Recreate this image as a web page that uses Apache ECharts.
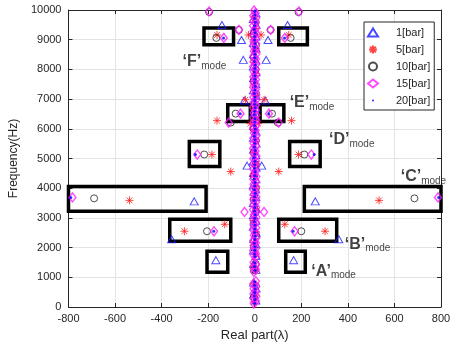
<!DOCTYPE html>
<html>
<head>
<meta charset="utf-8">
<script src="https://cdn.jsdelivr.net/npm/echarts@6/dist/echarts.min.js"></script>
<style>
  html, body { margin: 0; padding: 0; background: #fff; }
  #chart { width: 454px; height: 347px; }
</style>
</head>
<body>
<div id="chart"></div>
<script>
// [real part, frequency]
// central strip (lightly damped modes), per pressure
const strip1 = [[5,9890],[-6,9700],[6,9500],[-5,9300],[5,9110],[-6,8900],[6,8700],[-5,8510],[5,8300],[-6,8100],[6,7900],[-5,7710],[5,7500],[-6,7300],[6,7110],[-5,6900],[5,6700],[-6,6510],[6,6300],[-5,6100],[5,5910],[-6,5700],[6,5500],[-5,5300],[5,5110],[-6,4900],[6,4700],[-5,4510],[5,4300],[-6,4100],[4,3960],[-3,3880],[5,3700],[-6,3500],[6,3310],[-5,3100],[5,2900],[-6,2710],[6,2500],[-5,2300],[5,2110],[-6,1900],[5,1720],[-5,1450],[5,1250],[-5,820],[6,620],[-5,420],[5,220]];
const strip5 = [[-4,9760],[5,9380],[-5,9000],[4,8620],[-4,8240],[5,7860],[-5,7480],[4,7100],[-4,6720],[5,6340],[-5,5960],[4,5580],[-4,5200],[5,4820],[-5,4440],[4,4060],[-4,3680],[5,3300],[-5,2920],[4,2540],[-4,2160],[5,1780],[-4,1380],[4,1210],[-5,780],[4,400],[-4,170]];
const strip10 = [[4,9600],[-5,9200],[5,8800],[-4,8400],[4,8000],[-5,7600],[5,7200],[-4,6800],[4,6400],[-5,6000],[5,5600],[-4,5200],[4,4800],[-5,4400],[5,4000],[-4,3600],[4,3200],[-5,2800],[5,2400],[-4,2000],[4,1450],[-4,1260],[5,700],[-4,330]];
const strip15 = [[-3,9985],[4,9900],[-6,9815],[6,9730],[-5,9640],[4,9560],[-7,9470],[6,9385],[-4,9300],[7,9210],[-6,9125],[5,9040],[-5,8950],[6,8870],[-7,8780],[4,8695],[-4,8610],[7,8520],[-6,8440],[5,8350],[-5,8260],[6,8180],[-7,8090],[4,8005],[-4,7920],[7,7830],[-6,7750],[5,7660],[-5,7575],[6,7490],[-7,7400],[4,7320],[-4,7230],[7,7145],[-6,7060],[5,6970],[-5,6890],[6,6800],[-7,6715],[4,6630],[-4,6540],[7,6460],[-6,6370],[5,6285],[-5,6200],[6,6110],[-7,6030],[4,5940],[-4,5855],[7,5770],[-6,5680],[5,5600],[-5,5510],[6,5425],[-7,5340],[4,5250],[-4,5170],[7,5080],[-6,4995],[5,4910],[-5,4820],[6,4740],[-7,4650],[4,4565],[-4,4480],[7,4390],[-6,4310],[5,4220],[-5,4135],[6,4050],[-7,3960],[4,3880],[-4,3790],[7,3705],[-6,3620],[5,3530],[-5,3450],[6,3360],[-7,3275],[4,3190],[-4,3100],[7,3020],[-6,2930],[5,2845],[-5,2760],[6,2670],[-7,2590],[4,2500],[-4,2415],[7,2330],[-6,2240],[5,2160],[-5,2070],[6,1985],[-7,1900],[4,1810],[-4,1730],[6,1690],[-5,1500],[6,1420],[-6,1340],[5,1260],[-4,1185],[5,865],[-6,780],[6,700],[-5,615],[4,530],[-6,450],[7,365],[-5,280],[5,200],[-4,115]];
const strip20 = [[0,9950],[1,9830],[-1,9710],[2,9590],[0,9470],[-2,9350],[1,9230],[0,9110],[-1,8990],[2,8870],[0,8750],[-2,8630],[1,8510],[0,8390],[-1,8270],[2,8150],[0,8030],[-2,7910],[1,7790],[0,7670],[-1,7550],[2,7430],[0,7310],[-2,7190],[1,7070],[0,6950],[-1,6830],[2,6710],[0,6590],[-2,6470],[1,6350],[0,6230],[-1,6110],[2,5990],[0,5870],[-2,5750],[1,5630],[0,5510],[-1,5390],[2,5270],[0,5150],[-2,5030],[1,4910],[0,4790],[-1,4670],[2,4550],[0,4430],[-2,4310],[1,4190],[0,4070],[-1,3950],[2,3830],[0,3710],[-2,3590],[1,3470],[0,3350],[-1,3230],[2,3110],[0,2990],[-2,2870],[1,2750],[0,2630],[-1,2510],[2,2390],[0,2270],[-2,2150],[1,2030],[0,1910],[-1,1790],[1,1700],[0,1480],[-1,1360],[1,1240],[0,850],[-1,730],[2,610],[0,490],[-2,370],[1,250],[0,130]];

// points away from the strip
const modes1 = [[-141,9497],[141,9497],[-57,8990],[57,8990],[-49,8320],[49,8320],[-45,6950],[45,6950],[-33,4760],[30,4760],[-260,3557],[260,3557],[-357,2282],[361,2282],[-167,1577],[167,1577]];
const modes5 = [[-162,9160],[146,9160],[-27,9160],[27,9160],[-40,6980],[40,6980],[-162,6275],[158,6275],[-19,6174],[15,6174],[-184,5134],[188,5134],[-103,4560],[103,4560],[-538,3590],[534,3590],[-302,2550],[302,2550],[-129,2785],[129,2785]];
const modes10 = [[-196,9930],[188,9930],[-165,9060],[154,9060],[-68,9330],[68,9330],[-82,6510],[74,6510],[-103,6208],[99,6208],[-217,5134],[213,5134],[-690,3658],[686,3658],[-205,2550],[200,2550]];
const modes15 = [[-196,9950],[190,9950],[-133,9060],[129,9060],[-68,9330],[68,9330],[-61,6510],[61,6510],[-112,6208],[103,6208],[-247,5134],[243,5134],[-783,3690],[787,3690],[-175,2550],[171,2550],[-44,3200],[40,3200]];
const modes20 = [[-790,3690],[790,3690],[-255,5134],[255,5134],[-176,2550],[165,2550],[-134,9060],[128,9060],[-62,6510],[60,6510]];

const seriesNames = ['1[bar]', '5[bar]', '10[bar]', '15[bar]', '20[bar]'];

// mode annotations: box corners [x1, y1, x2, y2] and label anchor
const modeBoxes = [
  [-218, 9396, -91, 8826], [103, 9396, 226, 8826],
  [-116, 6812, -19, 6242], [23, 6812, 125, 6242],
  [-281, 5570, -150, 4732], [150, 5570, 281, 4732],
  [-800, 4060, -209, 3221], [213, 4060, 800, 3221],
  [-365, 2953, -103, 2215], [103, 2953, 352, 2215],
  [-205, 1879, -116, 1174], [133, 1879, 217, 1174]
];
const modeLabels = [['F', -310, 8255], ['E', 150, 6880], ['D', 319, 5640], ['C', 627, 4400], ['B', 387, 2114], ['A', 243, 1208]];

const asterisk = 'path://M0,-5V5M-5,0H5M-3.6,-3.6L3.6,3.6M-3.6,3.6L3.6,-3.6';
const smallDot = 'path://M-5,-5L-5,-5M5,5L5,5M-1.3,0A1.3,1.3,0,1,0,1.3,0A1.3,1.3,0,1,0,-1.3,0Z';
const fontFam = '"Liberation Sans", Arial, sans-serif';
const axisColor = '#262626';

var myChart = echarts.init(document.getElementById('chart'));

const baseX = {
  type: 'value', min: -800, max: 800, interval: 200,
  axisLine: { show: true, onZero: false, lineStyle: { color: axisColor, width: 1 } },
  axisTick: { show: true, inside: true, length: 4, lineStyle: { color: axisColor } },
  splitLine: { show: false }
};
const baseY = {
  type: 'value', min: 0, max: 10000, interval: 1000,
  axisLine: { show: true, onZero: false, lineStyle: { color: axisColor, width: 1 } },
  axisTick: { show: true, inside: true, length: 4, lineStyle: { color: axisColor } },
  splitLine: { show: false }
};

myChart.setOption({
  animation: false,
  textStyle: { fontFamily: fontFam },
  grid: { left: 62, right: 13, top: 10, bottom: 39 },
  legend: {
    orient: 'vertical', left: 364, top: 22,
    padding: [5, 4, 4, 3], itemGap: 6, itemWidth: 10, itemHeight: 8,
    backgroundColor: '#fff', borderColor: axisColor, borderWidth: 1,
    textStyle: { fontSize: 11, color: axisColor, padding: [0, 0, 0, 13] },
    data: [
      { name: '1[bar]' }, { name: '5[bar]' }, { name: '10[bar]' }, { name: '15[bar]' },
      { name: '20[bar]', icon: smallDot, itemStyle: { color: '#0000ff', borderWidth: 0 } }
    ]
  },
  xAxis: [
    Object.assign({}, baseX, {
      position: 'bottom',
      name: 'Real part(λ)', nameLocation: 'middle', nameGap: 22,
      nameTextStyle: { fontSize: 13, color: axisColor },
      axisLabel: { fontSize: 11, color: axisColor, margin: 6 },
      splitLine: { show: true, lineStyle: { color: '#e3e3e3', width: 1 } }
    }),
    Object.assign({}, baseX, { position: 'top', axisLabel: { show: false } })
  ],
  yAxis: [
    Object.assign({}, baseY, {
      position: 'left',
      name: 'Frequency(Hz)', nameLocation: 'middle', nameGap: 37,
      nameTextStyle: { fontSize: 12, color: axisColor },
      axisLabel: { fontSize: 11, color: axisColor, margin: 7, formatter: v => String(v) },
      splitLine: { show: true, lineStyle: { color: '#e3e3e3', width: 1 } }
    }),
    Object.assign({}, baseY, { position: 'right', axisLabel: { show: false } })
  ],
  series: [
    {
      name: 'modes', type: 'scatter', symbolSize: 0, silent: true, z: 1,
      data: modeLabels.map(m => ({ value: [m[1], m[2]], name: m[0] })),
      label: {
        show: true, position: [0, 0], align: 'left', verticalAlign: 'middle',
        formatter: p => '{q|‘' + p.name + '’}{m|mode}',
        rich: {
          q: { fontSize: 16, fontWeight: 'bold', color: '#111', fontFamily: fontFam },
          m: { fontSize: 10, color: '#111', fontFamily: fontFam, padding: [9, 0, 0, 0] }
        }
      },
      markArea: {
        silent: true,
        label: { show: false },
        itemStyle: { color: 'rgba(0,0,0,0)', borderColor: '#000', borderWidth: 3.5 },
        data: modeBoxes.map(b => [{ coord: [b[0], b[1]] }, { coord: [b[2], b[3]] }])
      }
    },
    {
      name: seriesNames[0], type: 'scatter', symbol: 'triangle', symbolSize: [8, 7], z: 2,
      itemStyle: { color: 'rgba(0,0,0,0)', borderColor: '#1a1aff', borderWidth: 1 },
      data: strip1.concat(modes1)
    },
    {
      name: seriesNames[1], type: 'scatter', symbol: asterisk, symbolSize: 8, z: 3,
      itemStyle: { color: 'rgba(0,0,0,0)', borderColor: '#ff1a1a', borderWidth: 1 },
      data: strip5.concat(modes5)
    },
    {
      name: seriesNames[2], type: 'scatter', symbol: 'circle', symbolSize: 7, z: 4,
      itemStyle: { color: 'rgba(0,0,0,0)', borderColor: '#222', borderWidth: 1 },
      data: strip10.concat(modes10)
    },
    {
      name: seriesNames[3], type: 'scatter', symbol: 'diamond', symbolSize: [7, 9], z: 5,
      itemStyle: { color: 'rgba(0,0,0,0)', borderColor: '#ff1aff', borderWidth: 1.4 },
      data: strip15.concat(modes15)
    },
    {
      name: seriesNames[4], type: 'scatter', symbol: 'circle', symbolSize: 3, z: 6,
      itemStyle: { color: '#0000ff' },
      data: strip20.concat(modes20)
    }
  ]
});
</script>
</body>
</html>
